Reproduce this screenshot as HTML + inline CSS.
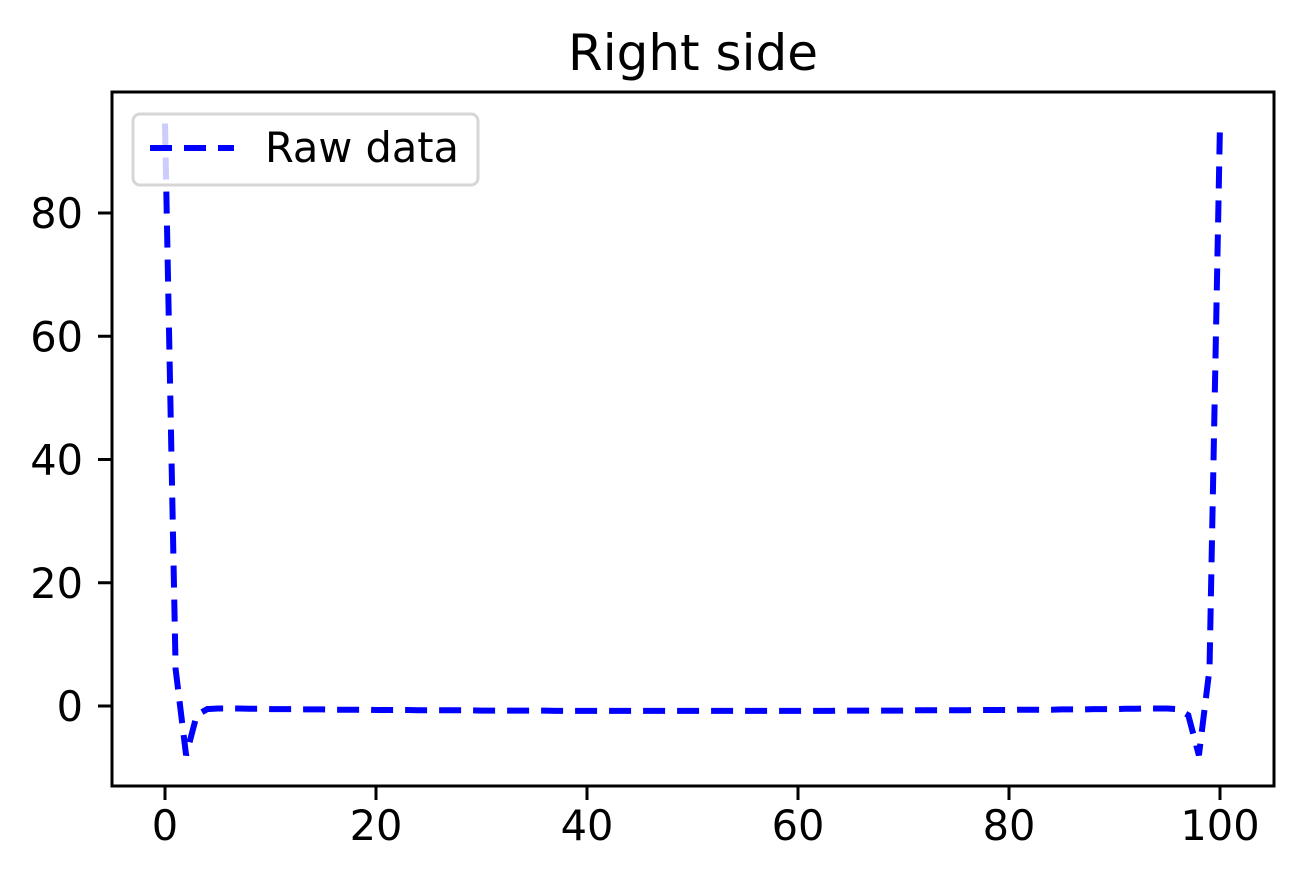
<!DOCTYPE html>
<html><head><meta charset="utf-8"><style>
body{margin:0;background:#fff;}
svg text{font-family:"DejaVu Sans","Liberation Sans",sans-serif;}
</style></head><body>
<svg width="1304" height="885">
<text x="693" y="70" font-size="50" text-anchor="middle">Right side</text>
<g id="ticks"></g>
<path id="line" fill="none" stroke="#0000ff" stroke-width="6" stroke-dasharray="22,12"/>
<rect x="112" y="92" width="1162" height="694" fill="none" stroke="#000" stroke-width="3"/>
<g>
<rect x="133" y="114" width="345" height="71" rx="7" fill="#fff" fill-opacity="0.8" stroke="#d6d6d6" stroke-width="3"/>
<line x1="150" y1="148" x2="234" y2="148" stroke="#0000ff" stroke-width="6" stroke-dasharray="22,12"/>
<text x="265" y="162" font-size="41.5">Raw data</text>
</g>
</svg>
<script>
const xTicks=[0,20,40,60,80,100];
const yTicks=[0,20,40,60,80];
const yValues=[94.5,6,-8,-1.5,-0.5,-0.4,-0.4,-0.4,-0.45,-0.45,-0.5,-0.5,-0.5,-0.55,-0.55,-0.55,-0.6,-0.6,-0.6,-0.6,-0.65,-0.65,-0.65,-0.65,-0.7,-0.7,-0.7,-0.7,-0.7,-0.7,-0.75,-0.75,-0.75,-0.75,-0.75,-0.75,-0.75,-0.8,-0.8,-0.8,-0.8,-0.8,-0.8,-0.8,-0.8,-0.8,-0.8,-0.8,-0.8,-0.8,-0.8,-0.8,-0.8,-0.8,-0.8,-0.8,-0.8,-0.8,-0.8,-0.8,-0.8,-0.8,-0.8,-0.8,-0.75,-0.75,-0.75,-0.75,-0.75,-0.75,-0.75,-0.7,-0.7,-0.7,-0.7,-0.7,-0.7,-0.65,-0.65,-0.65,-0.65,-0.6,-0.6,-0.6,-0.6,-0.55,-0.55,-0.55,-0.5,-0.5,-0.5,-0.45,-0.45,-0.4,-0.4,-0.4,-0.5,-1.5,-8,6,94.5];
const xs=v=>165+v*10.55, ys=v=>706-v*6.1625;
const NS='http://www.w3.org/2000/svg';
const g=document.getElementById('ticks');
function mk(t,a){const e=document.createElementNS(NS,t);for(const k in a)e.setAttribute(k,a[k]);g.appendChild(e);return e;}
xTicks.forEach(v=>{
 const l=mk('line',{x1:xs(v),x2:xs(v),y1:786,y2:800,stroke:'#000','stroke-width':3});
 
 
 const t=mk('text',{x:xs(v),y:840,'font-size':41.5,'text-anchor':'middle'});t.textContent=v;
 
 
});
yTicks.forEach(v=>{
 const l=mk('line',{x1:98,x2:112,y1:ys(v),y2:ys(v),stroke:'#000','stroke-width':3});
 
 
 const t=mk('text',{x:83,y:ys(v)+15,'font-size':41.5,'text-anchor':'end'});t.textContent=v;
 
 
});
document.getElementById('line').setAttribute('d',yValues.map((v,i)=>(i?'L':'M')+xs(i).toFixed(1)+','+ys(v).toFixed(1)).join(''));
</script>
</body></html>
